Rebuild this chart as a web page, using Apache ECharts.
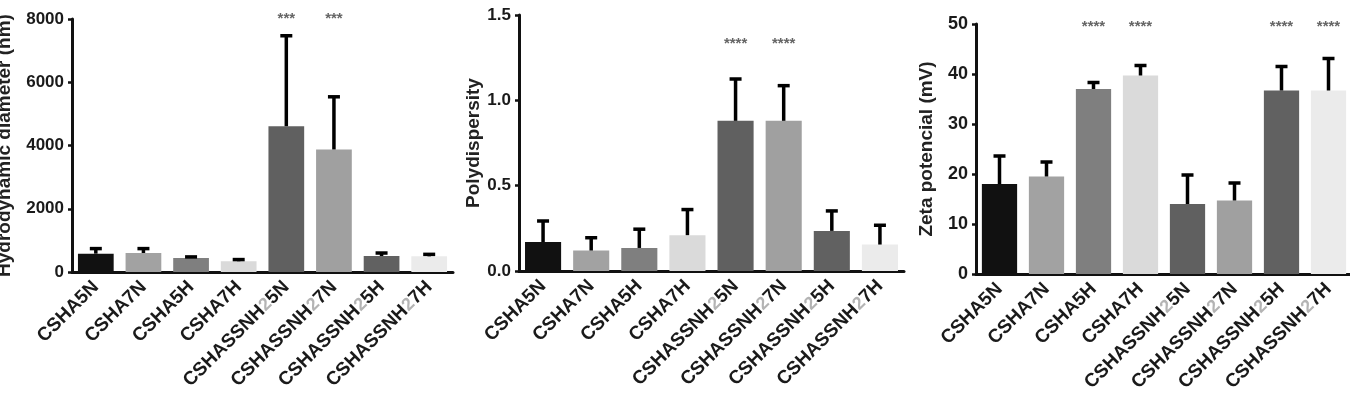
<!DOCTYPE html>
<html>
<head>
<meta charset="utf-8">
<script src="https://cdn.jsdelivr.net/npm/echarts@6/dist/echarts.min.js"></script>
<style>
  html, body { margin: 0; padding: 0; background: #fff; }
  #chart { width: 1350px; height: 396px; }
</style>
</head>
<body>
<div id="chart"></div>
<script>
const categories = ['CSHA5N', 'CSHA7N', 'CSHA5H', 'CSHA7H', 'CSHASSNH25N', 'CSHASSNH27N', 'CSHASSNH25H', 'CSHASSNH27H'];
const barColors = ['#111111', '#a2a2a2', '#7f7f7f', '#dadada', '#606060', '#a0a0a0', '#616161', '#ebebeb'];

// hydrodynamic diameter (nm)
const diameterMean = [580, 600, 445, 340, 4610, 3875, 505, 495];
const diameterErr = [160, 140, 32, 53, 2860, 1665, 95, 63];
const diameterSig = ['', '', '', '', '***', '***', '', ''];

// polydispersity
const pdiMean = [0.17, 0.12, 0.135, 0.21, 0.88, 0.88, 0.235, 0.155];
const pdiErr = [0.123, 0.075, 0.11, 0.15, 0.245, 0.206, 0.117, 0.113];
const pdiSig = ['', '', '', '', '****', '****', '', ''];

// zeta potential (mV)
const zetaMean = [18.0, 19.5, 37.0, 39.7, 14.0, 14.7, 36.7, 36.7];
const zetaErr = [5.6, 2.9, 1.3, 2.0, 5.8, 3.5, 4.8, 6.4];
const zetaSig = ['', '', '****', '****', '', '', '****', '****'];

const panels = [
    { title: 'Hydrodynamic diameter (nm)', mean: diameterMean, err: diameterErr, sig: diameterSig, max: 8000, interval: 2000, sigAt: 8000, digits: 0 },
    { title: 'Polydispersity', mean: pdiMean, err: pdiErr, sig: pdiSig, max: 1.5, interval: 0.5, sigAt: 1.33, digits: 1 },
    { title: 'Zeta potencial (mV)', mean: zetaMean, err: zetaErr, sig: zetaSig, max: 50, interval: 10, sigAt: 49.4, digits: 0 }
];

const grids = [
    { left: 72, top: 19, width: 381, height: 253, outerBoundsMode: 'none' },
    { left: 519, top: 15, width: 385, height: 256, outerBoundsMode: 'none' },
    { left: 976, top: 24, width: 376, height: 250, outerBoundsMode: 'none' }
];
const nameGaps = [58, 36, 40];

const FONT = 'Arial, "Liberation Sans", sans-serif';

function labelText(name) {
    // the "2" after NH is drawn as a light subscript-like digit
    return name.replace('NH2', 'NH{sub|2}');
}

function errorBarItem(params, api) {
    const x = api.value(0);
    const top = api.coord([x, api.value(1) + api.value(2)]);
    const base = api.coord([x, api.value(1)]);
    const half = 6;
    const style = { stroke: '#000', lineWidth: 3.5 };
    return {
        type: 'group',
        children: [
            { type: 'line', shape: { x1: top[0], y1: top[1], x2: base[0], y2: base[1] }, style: style },
            { type: 'line', shape: { x1: top[0] - half, y1: top[1], x2: top[0] + half, y2: top[1] }, style: style }
        ]
    };
}

function starItem(params, api) {
    const p = api.coord([api.value(0), api.value(1)]);
    const panel = panels[Math.floor(params.seriesIndex / 3)];
    return {
        type: 'text',
        style: {
            text: panel.sig[api.value(0)],
            x: p[0], y: p[1],
            align: 'center', verticalAlign: 'middle',
            fill: '#666', font: 'bold 15px ' + FONT
        }
    };
}

const xAxes = [], yAxes = [], series = [];
panels.forEach((p, i) => {
    xAxes.push({
        type: 'category', gridIndex: i, data: categories,
        axisLine: { lineStyle: { color: '#111', width: 3 } },
        axisTick: { alignWithLabel: true, length: 6, lineStyle: { color: '#111', width: 3 } },
        axisLabel: {
            rotate: 45, interval: 0, margin: 12,
            fontFamily: FONT, fontWeight: 'bold', fontSize: 19, color: '#1a1a1a',
            formatter: labelText,
            rich: { sub: { fontFamily: FONT, fontSize: 18, color: '#b4b4b4' } }
        }
    });
    yAxes.push({
        type: 'value', gridIndex: i, min: 0, max: p.max, interval: p.interval,
        name: p.title, nameLocation: 'middle', nameRotate: 90, nameGap: nameGaps[i],
        nameTextStyle: { fontFamily: FONT, fontWeight: 'bold', fontSize: 19, color: '#222' },
        axisLine: { show: true, lineStyle: { color: '#111', width: 3 } },
        axisTick: { show: true, length: 4, lineStyle: { color: '#111', width: 2.5 } },
        splitLine: { show: false },
        axisLabel: {
            margin: 8, fontFamily: FONT, fontWeight: 'bold', fontSize: i === 2 ? 18 : 17, color: '#1a1a1a',
            formatter: v => v.toFixed(p.digits)
        }
    });
    series.push({
        type: 'bar', xAxisIndex: i, yAxisIndex: i, barCategoryGap: '25%',
        data: p.mean.map((v, k) => ({ value: v, itemStyle: { color: barColors[k] } })),
        z: 2
    });
    series.push({
        type: 'custom', xAxisIndex: i, yAxisIndex: i, renderItem: errorBarItem,
        data: p.mean.map((v, k) => [k, v, p.err[k]]), z: 3, clip: false
    });
    series.push({
        type: 'custom', xAxisIndex: i, yAxisIndex: i, renderItem: starItem,
        data: p.sig.map((s, k) => [k, p.sigAt]).filter((d, k) => p.sig[k] !== ''), z: 3, clip: false
    });
});

const chart = echarts.init(document.getElementById('chart'));
chart.setOption({
    animation: false,
    backgroundColor: '#fff',
    grid: grids,
    xAxis: xAxes,
    yAxis: yAxes,
    series: series
});
</script>
</body>
</html>
